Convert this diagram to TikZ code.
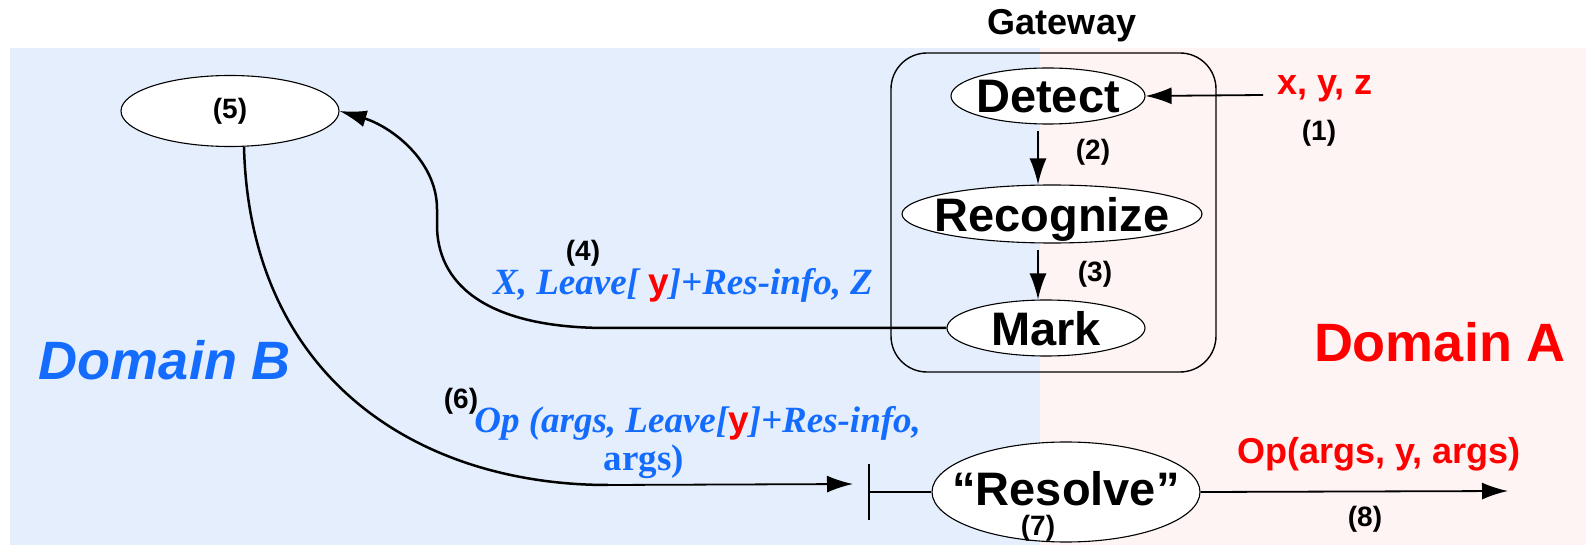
\documentclass[tikz,border=0pt]{standalone}
\usepackage{fontspec}
\setmainfont{Liberation Serif}
\setsansfont{Liberation Sans}
\usetikzlibrary{shapes.geometric,arrows.meta}
\definecolor{bgblue}{RGB}{228,238,252}
\definecolor{bgpink}{RGB}{255,244,244}
\definecolor{txtblue}{RGB}{20,108,255}
\definecolor{txtred}{RGB}{255,0,0}
\newcommand{\cenlabel}[1]{\makebox[0pt]{\raisebox{-.5\height}[0pt][0pt]{#1}}}
\newcommand{\fsz}[1]{\fontsize{#1}{#1}\selectfont}
\begin{document}
\begin{tikzpicture}[x=0.5pt,y=-0.5pt,
  ell/.style={ellipse, draw, fill=white, line width=0.55pt, inner sep=0pt},
  bigtxt/.style={font=\sffamily\bfseries\fsz{23.5}},
  num/.style={font=\sffamily\bfseries\fsz{14}, inner sep=0pt},
  arr/.style={line width=0.9pt, -{Latex[length=13pt,width=8.5pt]}},
  curvy/.style={line width=1.25pt},
  lbl/.style={font=\rmfamily\bfseries\itshape\fsz{18.5}, text=txtblue, inner sep=0pt},
  redsans/.style={font=\sffamily\bfseries\fsz{18}, text=txtred, inner sep=0pt}]
\useasboundingbox (0,0) rectangle (1586,545);
\fill[bgblue] (10,48) rectangle (1040,545);
\fill[bgpink] (1040,48) rectangle (1586,545);

% Gateway
\node[font=\sffamily\bfseries\fsz{18}, inner sep=0pt] (gwlabel) at (1062,26) {Gateway};
\draw[line width=0.7pt, rounded corners=18pt] (891,53) rectangle (1216,372);

\node[ell, bigtxt, minimum width=97pt, minimum height=28pt] (detect) at (1048,96) {\cenlabel{Detect}};
\node[ell, bigtxt, minimum width=150pt, minimum height=29pt] (recog) at (1052,214) {\cenlabel{Recognize}};
\node[ell, bigtxt, minimum width=99pt, minimum height=28pt] (mark) at (1046,328) {\cenlabel{Mark}};
\node[ell, bigtxt, minimum width=134pt, minimum height=50pt] (resolve) at (1066,492) {\raisebox{4pt}{\cenlabel{``Resolve''}}};
\node[ell, minimum width=109pt, minimum height=35.5pt] (p5) at (230,111) {};
\node[num] (n5) at (230,111) {(5)};

% input
\node[redsans, anchor=base] (xyz) at (1325,95) {x, y, z};
\coordinate (in1) at (1263,95);
\draw[arr] (in1) -- (detect.east);
\node[num] (n1) at (1319,133) {(1)};

% (2) and (3)
\coordinate (a2s) at (1038,131);
\draw[arr] (a2s) -- (a2s |- recog.north);
\node[num] (n2) at (1093,152) {(2)};
\coordinate (a3s) at (1038,250);
\draw[arr] (a3s) -- (a3s |- mark.north);
\node[num] (n3) at (1095,274) {(3)};

% Domains
\node[font=\sffamily\bfseries\fsz{27}, text=txtred, inner sep=0pt] (domA) at (1440,342) {Domain A};
\node[font=\sffamily\bfseries\itshape\fsz{27}, text=txtblue, inner sep=0pt] (domB) at (165,360) {Domain B};

% (4)
\coordinate (c4) at (607,328);
\draw[curvy, -{Latex[length=13.5pt,width=8.5pt]}] (mark.west) -- (c4)
  .. controls (480,328) and (437,280) .. (437,225) -- (437,209)
  .. controls (437,160) and (390,126) .. (p5.east);
\node[num] (n4) at (583,253) {(4)};
\node[lbl, anchor=base] (t4) at (683,295) {X, Leave[ {\sffamily\upshape\color{txtred}y}]+Res-info, Z};

% (6)
\coordinate (s6) at (244,147);
\coordinate (c6) at (608,485);
\coordinate (e6) at (853,484);
\draw[curvy] (s6) .. controls (250,380) and (420,485) .. (c6);
\draw[arr] (c6) -- (e6);
\node[num] (n6) at (461,401) {(6)};
\node[lbl, anchor=base west] (t6a) at (474,432) {Op (args, Leave[{\sffamily\upshape\color{txtred}y}]+Res-info,};
\node[lbl, anchor=base, font=\rmfamily\bfseries\fsz{18.5}] (t6b) at (644,470) {args)};

% tick bar
\coordinate (tick) at (869,492);
\draw[line width=0.55pt] (tick) -- (resolve.west);
\draw[line width=0.55pt] ([yshift=14pt]tick) -- ([yshift=-14pt]tick);
\node[num] (n7) at (1038,528) {(7)};

% (8)
\coordinate (e8) at (1508,491);
\draw[arr] (resolve.east) -- (e8);
\node[redsans, anchor=base] (opout) at (1379,463) {Op(args, y, args)};
\node[num] (n8) at (1365,519) {(8)};
\end{tikzpicture}
\end{document}
